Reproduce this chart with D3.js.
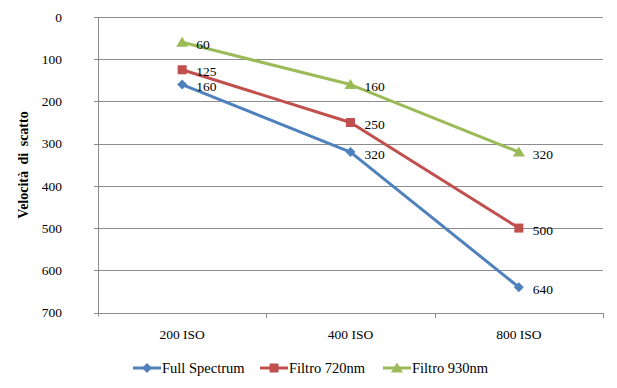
<!DOCTYPE html>
<html><head><meta charset="utf-8">
<script src="https://cdn.jsdelivr.net/npm/d3@7"></script>
<style>body{margin:0;background:#fff}svg{display:block}text{font-family:"Liberation Serif","Times New Roman",serif;}</style>
</head><body>
<script>
const categories = ["200 ISO","400 ISO","800 ISO"];
const seriesNames = ["Full Spectrum","Filtro 720nm","Filtro 930nm"];
const fullSpectrum = [160,320,640];
const filtro720 = [125,250,500];
const filtro930 = [60,160,320];
const yTicks = [0,100,200,300,400,500,600,700];
const colors = ["#4F81BD","#C0504D","#9BBB59"];
const seriesValues = [fullSpectrum, filtro720, filtro930];

(function(){
const W=617,H=388;
const svg=d3.select("body").append("svg").attr("width",W).attr("height",H);
const mL=98,mR=603,mT=17,mB=312.5;
const x=d3.scaleBand().domain(categories).range([mL,mR]);
const y=d3.scaleLinear().domain([0,700]).range([mT,mB]);

svg.append("g").selectAll("line").data(yTicks).join("line")
  .attr("x1",mL-4).attr("x2",mR).attr("y1",d=>Math.round(y(d))+0.5).attr("y2",d=>Math.round(y(d))+0.5)
  .attr("stroke","#8c8c8c").attr("stroke-width",1);
svg.append("line").attr("x1",mL+0.5).attr("x2",mL+0.5).attr("y1",mT).attr("y2",mB+4).attr("stroke","#8c8c8c");
svg.append("g").selectAll("line").data(categories.map(c=>x(c)+x.bandwidth())).join("line")
  .attr("x1",d=>Math.round(d)+0.5).attr("x2",d=>Math.round(d)+0.5).attr("y1",Math.round(y(700))).attr("y2",Math.round(y(700))+5).attr("stroke","#8c8c8c");
svg.append("g").selectAll("text").data(yTicks).join("text")
  .attr("x",62).attr("y",d=>y(d)).attr("dy","0.35em").attr("text-anchor","end")
  .attr("font-size",13.5).attr("fill","#000").text(d=>d);
svg.append("g").selectAll("text").data(categories).join("text")
  .attr("x",d=>x(d)+x.bandwidth()/2).attr("y",334).attr("dy","0.35em").attr("text-anchor","middle")
  .attr("font-size",13.5).text(d=>d);
svg.append("text").attr("transform","translate(28,165) rotate(-90)").attr("text-anchor","middle")
  .attr("font-size",14).attr("font-weight","bold").attr("word-spacing",3).text("Velocità di scatto");

function marker(g,i,cx,cy){
  if(i===0){ g.append("path").attr("d",`M${cx},${cy-5}L${cx+5},${cy}L${cx},${cy+5}L${cx-5},${cy}Z`).attr("fill",colors[i]); }
  else if(i===1){ g.append("rect").attr("x",cx-4.5).attr("y",cy-4.5).attr("width",9).attr("height",9).attr("fill",colors[i]); }
  else { g.append("path").attr("d",`M${cx},${cy-5.5}L${cx+6},${cy+4.5}L${cx-6},${cy+4.5}Z`).attr("fill",colors[i]); }
}
const line=d3.line().x((d,j)=>x(categories[j])+x.bandwidth()/2).y(d=>y(d));
seriesValues.forEach((vals,i)=>{
  const g=svg.append("g");
  g.append("path").datum(vals).attr("d",line).attr("fill","none").attr("stroke",colors[i]).attr("stroke-width",3).attr("stroke-linejoin","round");
  vals.forEach((v,j)=>{
    const cx=x(categories[j])+x.bandwidth()/2, cy=y(v);
    marker(g,i,cx,cy);
    g.append("text").attr("x",cx+14).attr("y",cy+2).attr("dy","0.35em").attr("font-size",13.5).text(v);
  });
});
const legX=[133,260,383];
seriesNames.forEach((n,i)=>{
  const g=svg.append("g");
  const ly=368;
  g.append("line").attr("x1",legX[i]).attr("x2",legX[i]+28).attr("y1",ly).attr("y2",ly).attr("stroke",colors[i]).attr("stroke-width",3);
  marker(g,i,legX[i]+14,ly);
  g.append("text").attr("x",legX[i]+29).attr("y",ly).attr("dy","0.35em").attr("font-size",14.5).text(n);
});
})();
</script>
</body></html>
